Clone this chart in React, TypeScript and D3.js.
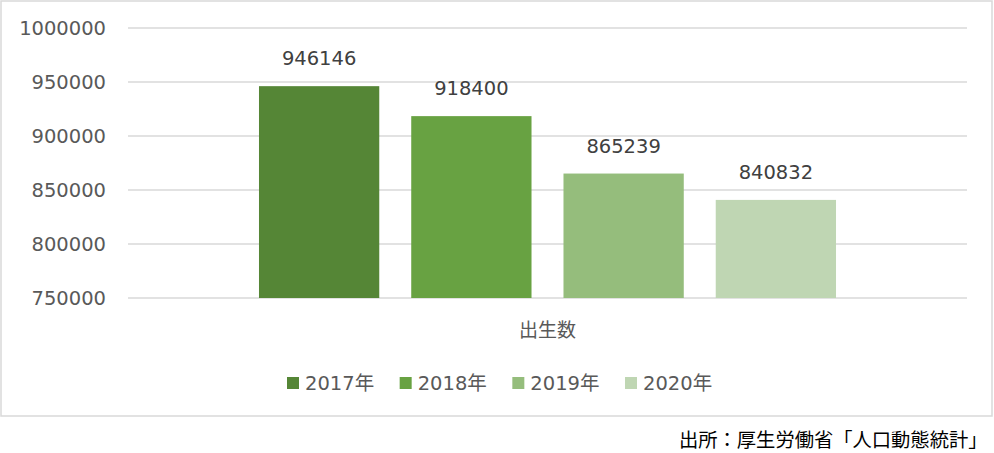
import * as d3 from "d3";

// 出生数（2017〜2020年）
const categories = ["出生数"];
const series = ["2017年", "2018年", "2019年", "2020年"];
const births = [946146, 918400, 865239, 840832];
const colors = ["#558636", "#68a242", "#95bd7c", "#bfd6b3"];
const yTicks = [750000, 800000, 850000, 900000, 950000, 1000000];
const source = "出所：厚生労働省「人口動態統計」";

const W = 994;
const H = 453;
const PLOT = { left: 128, right: 967, top: 28, bottom: 298 };
const NUM_FONT = "'DejaVu Sans', Verdana, sans-serif";
const JP_FONT = "'DejaVu Sans', 'Noto Sans CJK JP', sans-serif";

export default function App() {
  const y = d3
    .scaleLinear()
    .domain([750000, 1000000])
    .range([PLOT.bottom, PLOT.top]);

  const x0 = d3
    .scaleBand<string>()
    .domain(categories)
    .range([PLOT.left, PLOT.right])
    .paddingOuter(0.227);

  const x1 = d3
    .scaleBand<string>()
    .domain(series)
    .range([0, x0.bandwidth()])
    .paddingInner(0.21)
    .paddingOuter(0);

  // 凡例の位置
  const legendX = d3.scalePoint<string>().domain(series).range([287, 625]);

  return (
    <div style={{ position: "fixed", left: 0, top: 0, width: W, height: H, overflow: "hidden" }}>
      <svg width={W} height={H} style={{ display: "block", background: "#fff" }}>
        <rect x={1} y={1} width={991} height={415} fill="#fff" stroke="#d9d9d9" strokeWidth={1.5} />

        {yTicks.map((t) => (
          <g key={t}>
            <line
              x1={PLOT.left}
              x2={PLOT.right}
              y1={y(t)}
              y2={y(t)}
              stroke="#d9d9d9"
              strokeWidth={1.3}
            />
            <text
              x={106}
              y={y(t)}
              dy="0.36em"
              textAnchor="end"
              fontFamily={NUM_FONT}
              fontSize={19.5}
              fill="#595959"
            >
              {t}
            </text>
          </g>
        ))}

        {categories.map((c) => (
          <g key={c} transform={`translate(${x0(c)},0)`}>
            {series.map((s, i) => (
              <g key={s}>
                <rect
                  x={x1(s)}
                  y={y(births[i])}
                  width={x1.bandwidth()}
                  height={y(750000) - y(births[i])}
                  fill={colors[i]}
                />
                <text
                  x={(x1(s) ?? 0) + x1.bandwidth() / 2}
                  y={y(births[i]) - 28}
                  dy="0.36em"
                  textAnchor="middle"
                  fontFamily={NUM_FONT}
                  fontSize={19.5}
                  fill="#404040"
                >
                  {births[i]}
                </text>
              </g>
            ))}
            <text
              x={x0.bandwidth() / 2}
              y={330}
              dy="0.36em"
              textAnchor="middle"
              fontFamily={JP_FONT}
              fontSize={19}
              fill="#595959"
            >
              {c}
            </text>
          </g>
        ))}

        {series.map((s, i) => (
          <g key={s} transform={`translate(${legendX(s)},383)`}>
            <rect x={0} y={-6} width={12} height={12} fill={colors[i]} />
            <text
              x={18}
              y={0}
              dy="0.36em"
              fontFamily={JP_FONT}
              fontSize={19.5}
              fill="#595959"
            >
              {s}
            </text>
          </g>
        ))}

        <text
          x={679}
          y={440}
          dy="0.36em"
          fontFamily="'Noto Sans CJK JP', sans-serif"
          fontSize={19.3}
          fill="#000"
        >
          {source}
        </text>
      </svg>
    </div>
  );
}
